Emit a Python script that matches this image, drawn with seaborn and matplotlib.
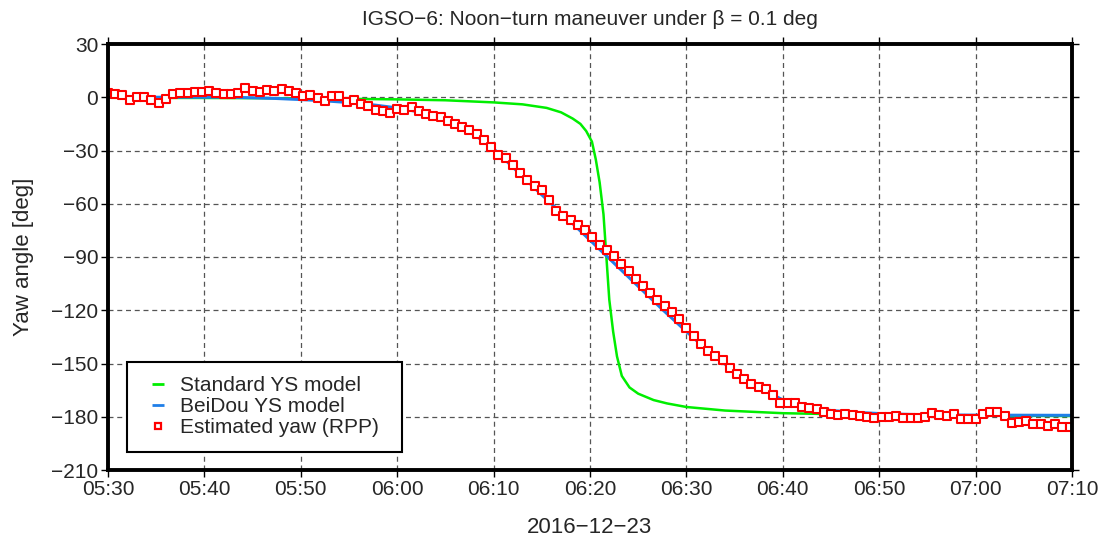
import numpy as np
import pandas as pd
import matplotlib
matplotlib.use("Agg")
import matplotlib.pyplot as plt
import matplotlib.dates as mdates
from matplotlib.lines import Line2D
import seaborn as sns

# ---------------- data ----------------
day = "2016-12-23"
start_time = "05:30:00"
end_time = "07:10:00"

# Standard YS model (minutes after 05:30, yaw deg)
std_minutes = [0, 10, 20, 30, 35, 40, 43, 45.5, 47, 48.2, 49, 49.6, 50.2, 50.6, 51.0,
               51.4, 51.7, 52.0, 52.4, 52.8, 53.3, 54.1, 55, 56.6, 58, 60, 64, 70, 80, 90, 100]
std_yaw = [-0.3, -0.4, -0.6, -1.2, -1.7, -2.9, -4.0, -6.0, -8.5, -12, -15, -19, -25, -35, -48,
           -66, -90, -114, -132, -146, -157, -163.5, -167, -170.6, -172.5, -174.5, -176.5,
           -178, -179, -179.4, -179.6]

# BeiDou YS model
bds_minutes = [0, 5, 10, 12.5, 15, 17.5, 20, 22.5, 25, 27.5, 30, 32.5, 35, 36.25, 37.5,
               38.75, 40, 41.25, 42.5, 45, 47.5, 50, 52.5, 55, 57.5, 60, 62.5, 65, 67.5,
               70, 72.5, 75, 77.5, 80, 82.5, 85, 90, 100]
bds_yaw = [0, 0, 0, 0, -0.3, -0.7, -1.3, -2, -3, -4.3, -6, -8.5, -12.5, -15.7, -19.5,
           -24, -29, -35.5, -42, -55, -67.5, -80.5, -93.5, -106.5, -119.5, -132, -144,
           -154.5, -163.5, -170.5, -174.5, -176.5, -177.5, -178.2, -178.6, -178.9,
           -179.1, -179.2]

# Estimated yaw (RPP), one value every 45 s from 05:30:00
rpp_yaw = [2.5, 2, 1, -1.3, 0, 0, -1.3, -3.2, -1, 2, 2.5, 2.5, 3.2, 3.2, 3.8, 2.5, 2, 2,
           2.5, 5, 3.8, 2.8, 4.3, 3.8, 4.7, 3.8, 2.5, 0.7, 1.5, -0.4, -2.2, 0.5, 0.5, -2.7,
           -1.8, -3.7, -4.9, -7.3, -8, -8.6, -6.8, -7.3, -5.5, -7.7, -9.5, -10.4, -11,
           -13.2, -15, -16.5, -18.6, -20.5, -24, -27.8, -32.4, -34, -38, -42.5, -46.5, -50,
           -52, -58, -64, -67, -69, -72, -75, -79, -83, -86, -89.5, -94, -98, -102.5,
           -106.5, -110, -114, -117.5, -121, -125, -130, -134.5, -139, -142.7, -145.5,
           -148, -152.5, -156, -158.8, -161.6, -163, -164.5, -168, -172, -172.5, -172,
           -174.5, -175.3, -175.8, -177.5, -178.7, -179.2, -178.7, -179.2, -179.6, -180,
           -180.6, -180.4, -180.2, -179.5, -180.9, -180.7, -180.9, -180, -177.7, -179,
           -179.6, -178.5, -181, -181.5, -181, -178.7, -177.5, -177.3, -179.5, -183.6,
           -182.8, -182.5, -184.3, -184.3, -185.3, -184, -185.8, -185.8]
rpp_step = "45s"

y_ticks = [30, 0, -30, -60, -90, -120, -150, -180, -210]
title = "IGSO\u22126: Noon\u2212turn maneuver under \u03b2 = 0.1 deg"
ylabel = "Yaw angle [deg]"
xlabel = "2016\u221212\u221223"
labels = ["Standard YS model", "BeiDou YS model", "Estimated yaw (RPP)"]

GREEN = "#00ee00"
BLUE = "#1f7fe8"
RED = "#ff0000"

# ---------------- frames ----------------
t0 = pd.Timestamp(f"{day} {start_time}")
t1 = pd.Timestamp(f"{day} {end_time}")
df_std = pd.DataFrame({"time": t0 + pd.to_timedelta(std_minutes, unit="min"), "yaw": std_yaw})
df_bds = pd.DataFrame({"time": t0 + pd.to_timedelta(bds_minutes, unit="min"), "yaw": bds_yaw})
df_rpp = pd.DataFrame({"time": pd.date_range(t0, periods=len(rpp_yaw), freq=rpp_step),
                       "yaw": rpp_yaw})

# ---------------- plot ----------------
sns.set_theme(style="white")
plt.rcParams["font.family"] = ["Liberation Sans", "DejaVu Sans"]
plt.rcParams["axes.unicode_minus"] = True

fig = plt.figure(figsize=(11.05, 5.44), dpi=100)
ax = fig.add_axes([108 / 1105, 1 - 470 / 544, (1072 - 108) / 1105, (470 - 44) / 544])

sns.lineplot(data=df_std, x="time", y="yaw", ax=ax, color=GREEN, lw=1.8,
             zorder=3, estimator=None, sort=False, legend=False)
sns.lineplot(data=df_bds, x="time", y="yaw", ax=ax, color=BLUE, lw=2.2,
             zorder=4, estimator=None, sort=False, legend=False)
sns.scatterplot(data=df_rpp, x="time", y="yaw", ax=ax, marker="s", s=40,
                facecolor="white", edgecolor=RED, linewidth=1.5,
                zorder=5, legend=False)

ax.set_xlim(t0, t1)
ax.set_ylim(-210, 30)
ax.set_yticks(y_ticks)
ax.xaxis.set_major_locator(mdates.MinuteLocator(byminute=[0, 10, 20, 30, 40, 50]))
ax.xaxis.set_major_formatter(mdates.DateFormatter("%H:%M"))

ax.grid(True, color="#555555", linestyle=(0, (4, 3)), linewidth=0.9)
for s in ax.spines.values():
    s.set_visible(True)
    s.set_color("black")
    s.set_linewidth(2.8)
    s.set_zorder(6)
ax.tick_params(axis="both", which="major", direction="out", length=5, width=1.0,
               color="black", labelsize=15, top=True, right=True, bottom=True, left=True,
               labeltop=False, labelright=False, pad=2)

ax.set_title(title, fontsize=15, pad=14)
ax.set_ylabel(ylabel, fontsize=16, labelpad=12)
ax.set_xlabel(xlabel, fontsize=16, labelpad=13)

handles = [
    Line2D([], [], linestyle="none", marker="_", markersize=9, markeredgewidth=2,
           color=GREEN),
    Line2D([], [], linestyle="none", marker="_", markersize=9, markeredgewidth=2,
           color=BLUE),
    Line2D([], [], linestyle="none", marker="s", markersize=5, markeredgewidth=1.6,
           markerfacecolor="white", markeredgecolor=RED),
]
leg = ax.legend(handles, labels, loc="lower left",
                bbox_to_anchor=((127 - 108) / 964, (470 - 452) / 426, (402 - 127) / 964, 0.2),
                mode="expand", fontsize=15,
                frameon=True, fancybox=False, edgecolor="black", framealpha=1,
                handlelength=1.6, handletextpad=0.25, borderpad=0.7, labelspacing=0.1,
                borderaxespad=0)
leg.get_frame().set_linewidth(1.5)
leg.set_zorder(7)

fig.savefig("out.png", dpi=100)
